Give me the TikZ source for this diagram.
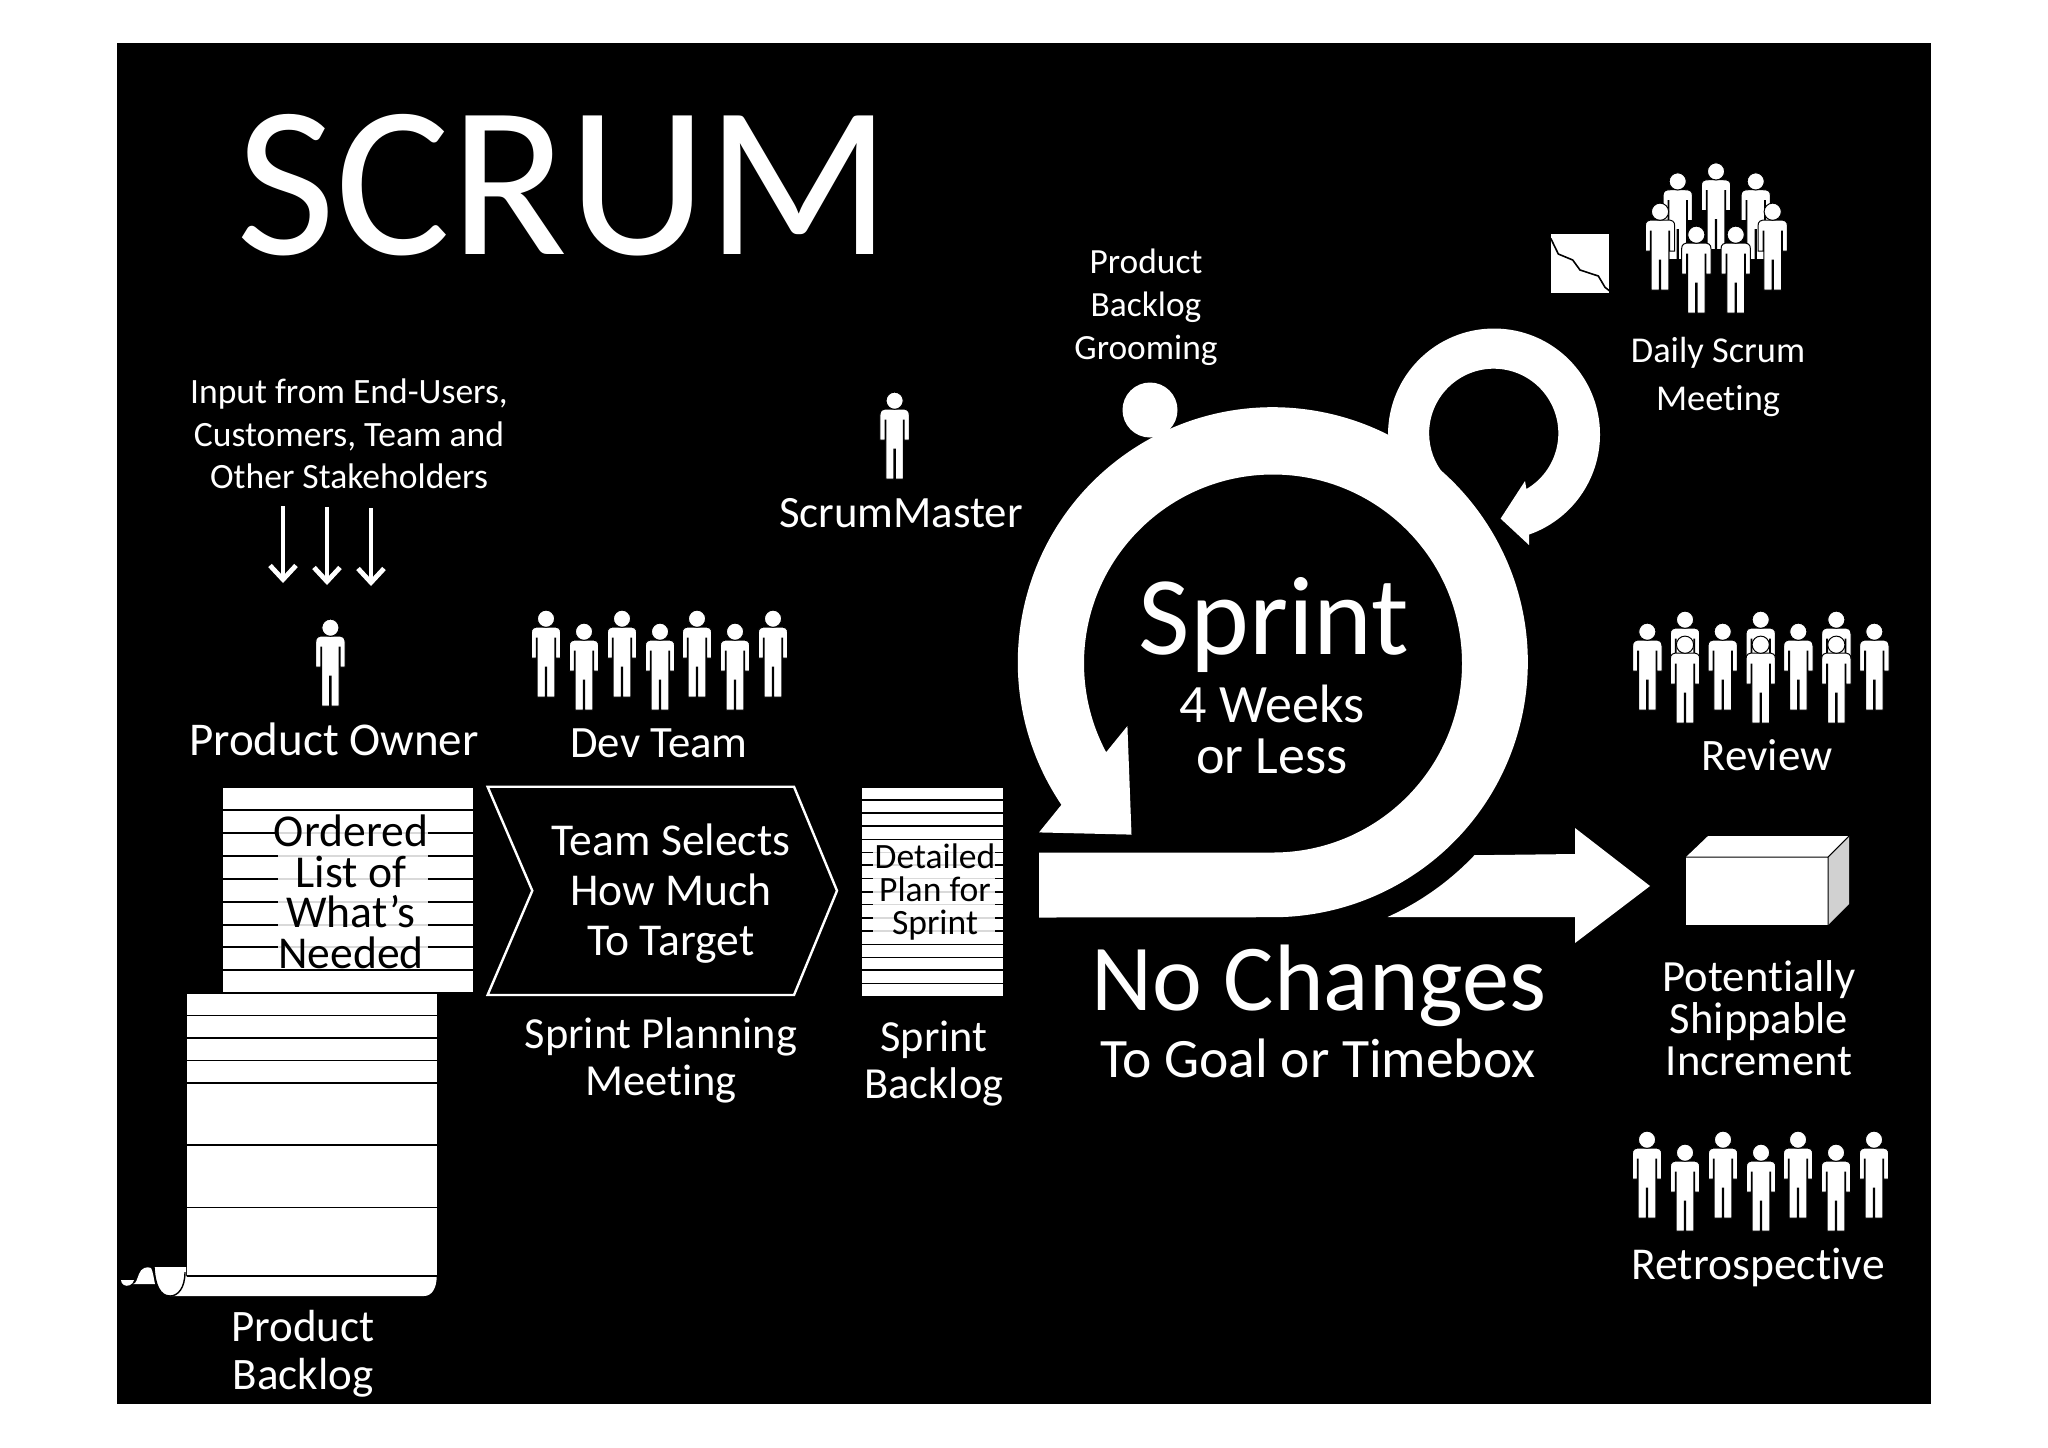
\documentclass[tikz,border=0pt]{standalone}
\usepackage{fontspec}
\setmainfont[RawFeature={-liga}]{Carlito}
\usetikzlibrary{arrows.meta}
\tikzset{
  tf/.style 2 args={font=\fontsize{#1}{#2}\selectfont},
  wl/.style={text=white,align=center,inner sep=0pt},
  bl/.style={text=black,align=center,inner sep=0pt},
  paper/.style={fill=white},
  rule/.style={draw=black,line width=0.8pt},
  person/.pic={
    \draw[fill=white,draw=black,line width=0.5pt] (-7,17) .. controls (-12,17) and (-14.7,18) .. (-14.7,23)
      -- (-14.7,48) -- (-9.6,48) -- (-9.6,28) -- (-8.8,28) -- (-8.8,87) -- (-0.7,87) -- (-0.7,57) -- (0.7,57) -- (0.7,87) -- (8.8,87)
      -- (8.8,28) -- (9.6,28) -- (9.6,48) -- (14.7,48) -- (14.7,23) .. controls (14.7,18) and (12,17) .. (7,17) -- cycle;
    \draw[fill=white,draw=black,line width=0.5pt] (0,8.7) circle (8.6);
  },
  inarrow/.style={draw=white,line width=2.4pt,-{Straight Barb[length=7pt,width=13pt,line width=2.4pt]}},
}
\begin{document}
\begin{tikzpicture}[x=0.5pt,y=-0.5pt]
\useasboundingbox (0,0) rectangle (2048,1447);
\fill[white] (0,0) rectangle (2048,1447);
\fill[black] (117,43) rectangle (1931,1404);

% title
\node[wl,tf={108}{108}] (title) at (564,185) {SCRUM};

% input
\node[wl,tf={17.8}{21.3}] (input) at (349,434) {Input from End-Users,\\Customers, Team and\\Other Stakeholders};
\coordinate (a1s) at (283,506); \coordinate (a1e) at (283,583);
\coordinate (a2s) at (327,507); \coordinate (a2e) at (327,585);
\coordinate (a3s) at (371,508); \coordinate (a3e) at (371,586);
\draw[inarrow] (a1s) -- (a1e);
\draw[inarrow] (a2s) -- (a2e);
\draw[inarrow] (a3s) -- (a3e);

% single persons
\pic at (330.4,619) {person};
\pic at (894.6,392) {person};
\node[wl,tf={23.5}{26}] (po) at (334,739) {Product Owner};
\node[wl,tf={22.4}{26}] (sm) at (901,513) {ScrumMaster};

% dev team
\foreach \x/\t in {546/610,584/623,622/610,660/623,697/610,735/623,773/610} \pic at (\x,\t) {person};
\node[wl,tf={22.4}{26}] (dev) at (659,743) {Dev Team};

% ordered list
\fill[paper] (223.3,788) rectangle (473.3,992);
\foreach \y in {810.2,833,856,878.7,902,924.8,947,970} \draw[rule] (223.3,\y) -- (473.3,\y);
\fill[white,opacity=.85] (278,820) rectangle (428,962);
\node[bl,tf={22.8}{20.3}] (ordered) at (351,892) {Ordered\\List of\\What’s\\Needed};

% product backlog
\fill[paper] (186.7,994) rectangle (436.7,1276);
\fill[paper] (186.7,1276) -- (436.7,1276) .. controls (436.7,1288) and (432,1296) .. (424,1296) -- (170,1296) -- cycle;
\foreach \y in {1015.6,1038,1060.5,1083,1145,1207.4,1276} \draw[rule] (186.7,\y) -- (436.7,\y);
\fill[paper] (154,1267) -- (186,1267) -- (186,1276) .. controls (186,1288) and (178,1296) .. (170,1296) .. controls (160,1296) and (155,1285) .. (154,1267) -- cycle;
\draw[black,line width=0.7pt] (154,1267) .. controls (155,1285) and (160,1296) .. (170,1296) .. controls (178,1296) and (185,1288) .. (185,1272);
\fill[paper] (133,1284) .. controls (136,1284) and (137,1279) .. (139,1274) .. controls (141,1268) and (147,1266) .. (151,1268) .. controls (153,1271) and (154,1280) .. (155,1284) -- cycle;
\fill[paper] (121,1280) -- (134,1280) .. controls (133,1285) and (127,1287) .. (124,1285) .. controls (122,1284) and (121,1282) .. (121,1280) -- cycle;
\node[wl,tf={22.5}{24}] (pb) at (303,1354) {Product\\Backlog};

% chevron
\node[wl,tf={22.8}{25}] (selects) at (671,894) {Team Selects\\How Much\\To Target};
\draw[white,line width=1.2pt] (487.6,786.7) -- (794,786.7) -- (837,890.7) -- (794,995) -- (487.6,995) -- (532.3,890.7) -- cycle;
\node[wl,tf={22.2}{23.5}] (spm) at (661,1060) {Sprint Planning\\Meeting};

% sprint backlog
\fill[paper] (862.2,788) rectangle (1003,995.7);
\foreach \y in {800,812.7,826,839.3,852.3,865,878.3,891.7,904.3,917.7,931,944.3,957.3,970,983.3} \draw[rule] (862.2,\y) -- (1003,\y);
\fill[white,opacity=.85] (873,846) rectangle (995,935);
\node[bl,tf={17.8}{16.5}] (detail) at (935,892) {Detailed\\Plan for\\Sprint};
\node[wl,tf={22.2}{23.5}] (sb) at (934,1064) {Sprint\\Backlog};

% sprint ring
\fill[white] (1039,852.5) -- (1273,852.5) arc (90:-208:189) -- (1127.4,726) -- (1131.5,834.6) -- (1039,832.4) -- (1061.4,804.8)
  arc (146:450:255) -- (1039,917.5) -- cycle;
% small loop
\fill[white] (1388,434.5) arc (180:430.7:106) -- (1529,545) -- (1500.6,518.6) -- (1525,481) -- (1526.4,489)
  arc (419.6:140.7:64.6) -- (1420,490) -- (1400,445) -- cycle;
% grooming dot
\fill[white] (1150,410) circle (27.5);
\node[wl,tf={17.7}{21.5}] (groom) at (1146,307) {Product\\Backlog\\Grooming};
\node[wl,tf={56}{56}] (sprint) at (1274,625) {Sprint};
\node[wl,tf={27}{25.5}] (weeks) at (1272,729) {4 Weeks\\or Less};

% output arrow
\fill[white] (1387.5,917) arc (65.7:43.5:277) -- (1575,854) -- (1575,828) -- (1650,886) -- (1575,943) -- (1575,917) -- cycle;

% box
\fill[white] (1686,857) -- (1708,836) -- (1849,836) -- (1828,857) -- cycle;
\fill[white] (1686,857) rectangle (1828,925);
\fill[black!18] (1828,857) -- (1849,836) -- (1849,904) -- (1828,925) -- cycle;
\draw[black,line width=0.5pt] (1686,857) -- (1828,857) -- (1828,925) (1828,857) -- (1849,836);

\node[wl,tf={47.2}{47}] (nochg) at (1319,986) {No Changes};
\node[wl,tf={27.8}{30}] (goal) at (1318,1058) {To Goal or Timebox};
\node[wl,tf={22.3}{21}] (incr) at (1759,1018) {Potentially\\Shippable\\Increment};

% daily scrum
\fill[white] (1550.7,234) rectangle (1609.3,292.7);
\draw[black,line width=0.8pt] (1550.7,238.3) -- (1558.3,254) -- (1572.7,260) -- (1580,270) -- (1598.3,276) -- (1605,287.3) -- (1609.3,290.7);
\foreach \x/\t in {1677.7/172.7,1716/162.7,1755.7/172.7,1660/203,1772.7/203,1696.3/226,1735.7/226} \pic at (\x,\t) {person};
\node[wl,tf={18.2}{24}] (daily) at (1718,377) {Daily Scrum\\Meeting};

% review
\foreach \x/\t in {1685/611,1760.7/611,1836.3/611,1647.3/623,1722.7/623,1798.3/623,1874.3/623,1685/636,1760.7/636,1836.3/636} \pic at (\x,\t) {person};
\node[wl,tf={22.5}{26}] (review) at (1767,755) {Review};

% retrospective
\foreach \x/\t in {1647/1131,1685/1144,1723/1131,1761/1144,1798/1131,1836/1144,1874/1131} \pic at (\x,\t) {person};
\node[wl,tf={22.8}{26}] (retro) at (1758,1267) {Retrospective};
\end{tikzpicture}
\end{document}
